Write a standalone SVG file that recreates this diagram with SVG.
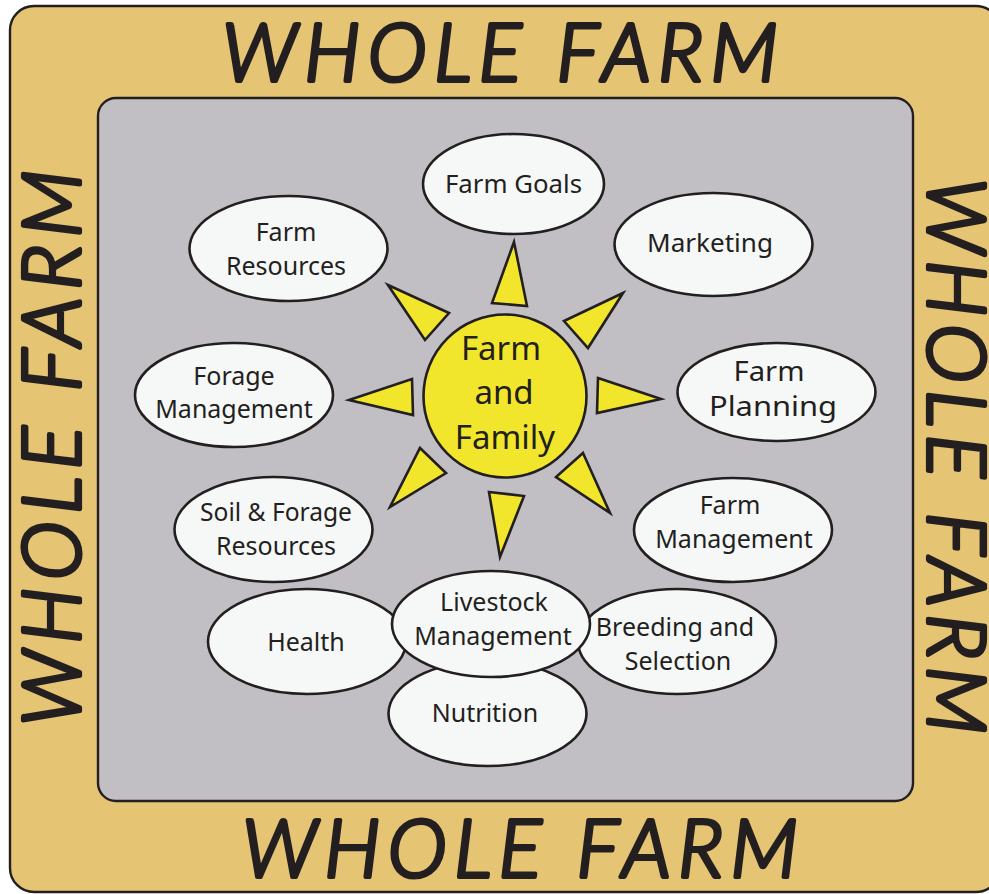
<svg xmlns="http://www.w3.org/2000/svg" width="989" height="894" viewBox="0 0 989 894">
<style>
.bd{stroke:#231f20;stroke-width:2.4}
.el{fill:#f6f8f7;stroke:#231f20;stroke-width:2.6}
.ray{fill:#f2e62c;stroke:#231f20;stroke-width:2.6;stroke-linejoin:miter}
text{font-family:"Noto Sans","Open Sans","Liberation Sans",sans-serif;fill:#231f20;text-anchor:middle}
.t{font-size:25px}
.big{font-size:33px}
.wf{font-family:"Lato","Open Sans",sans-serif;font-style:italic;font-weight:300;font-size:80px;stroke:#231f20;stroke-width:4.2;stroke-linejoin:round;stroke-linecap:round;text-anchor:start}
</style>
<rect width="989" height="894" fill="#fff"/>
<g id="outer-frame"><rect class="bd" x="10" y="6" width="990" height="886" rx="24" fill="#e5c474"/></g>
<g id="inner-panel"><rect class="bd" x="98" y="98" width="815" height="703" rx="18" fill="#c1bfc3"/></g>
<g id="frame-labels">
<text class="wf" x="222" y="81" textLength="556" lengthAdjust="spacing">WHOLE FARM</text>
<text class="wf" x="242" y="877" textLength="556" lengthAdjust="spacing">WHOLE FARM</text>
<text class="wf" transform="translate(80 726) rotate(-90)" textLength="556" lengthAdjust="spacing">WHOLE FARM</text>
<text class="wf" transform="translate(928 178) rotate(90)" textLength="556" lengthAdjust="spacing">WHOLE FARM</text>
</g>
<g id="connectors">
<polygon class="ray" points="514,242 492,303 527,306"/>
<polygon class="ray" points="623,293 564,321 588,348"/>
<polygon class="ray" points="598,378 661,399 597,413"/>
<polygon class="ray" points="583,453 610,513 556,477"/>
<polygon class="ray" points="489,492 524,496 500,557"/>
<polygon class="ray" points="420,448 446,473 390,507"/>
<polygon class="ray" points="412,379 413,415 349,400"/>
<polygon class="ray" points="388,285 449,313 425,340"/>
</g>
<g id="farm-and-family"><circle class="ray" cx="505" cy="396" r="81.5"/>
<text class="big" x="501" y="360">Farm</text><text class="big" x="504" y="404">and</text><text class="big" x="505" y="449">Family</text></g>
<g id="farm-goals"><ellipse class="el" cx="513.500" cy="184" rx="90.500" ry="50"/><text class="t" x="513.500" y="193" textLength="137" lengthAdjust="spacingAndGlyphs">Farm Goals</text></g>
<g id="marketing"><ellipse class="el" cx="713.500" cy="244.500" rx="99" ry="51.500"/><text class="t" x="710" y="252" textLength="126" lengthAdjust="spacingAndGlyphs">Marketing</text></g>
<g id="farm-resources"><ellipse class="el" cx="288.500" cy="248.500" rx="99" ry="52.500"/><text class="t" x="286" y="241">Farm</text><text class="t" x="286" y="275">Resources</text></g>
<g id="forage-management"><ellipse class="el" cx="234" cy="395" rx="99" ry="52"/><text class="t" x="234" y="385">Forage</text><text class="t" x="234" y="418">Management</text></g>
<g id="farm-planning"><ellipse class="el" cx="776.500" cy="392" rx="99" ry="49"/><text class="t" x="769" y="381" style="font-size:27px" textLength="71" lengthAdjust="spacingAndGlyphs">Farm</text><text class="t" x="773" y="416" style="font-size:28px" textLength="128" lengthAdjust="spacingAndGlyphs">Planning</text></g>
<g id="soil-forage-resources"><ellipse class="el" cx="273.500" cy="529.500" rx="99" ry="52.500"/><text class="t" x="276" y="521" textLength="152" lengthAdjust="spacingAndGlyphs">Soil &amp; Forage</text><text class="t" x="276" y="555">Resources</text></g>
<g id="farm-management"><ellipse class="el" cx="733" cy="530" rx="99" ry="52"/><text class="t" x="730" y="514">Farm</text><text class="t" x="734" y="548">Management</text></g>
<g id="health"><ellipse class="el" cx="307" cy="641.500" rx="99" ry="52.500"/><text class="t" x="306" y="651">Health</text></g>
<g id="breeding-selection"><ellipse class="el" cx="677" cy="641.500" rx="99" ry="52.500"/><text class="t" x="675" y="636">Breeding and</text><text class="t" x="678" y="670">Selection</text></g>
<g id="nutrition"><ellipse class="el" cx="487.500" cy="713.500" rx="99" ry="52.500"/><text class="t" x="485" y="722">Nutrition</text></g>
<g id="livestock-management"><ellipse class="el" cx="491" cy="624" rx="99" ry="53"/><text class="t" x="494" y="611">Livestock</text><text class="t" x="493" y="645">Management</text></g>
</svg>
